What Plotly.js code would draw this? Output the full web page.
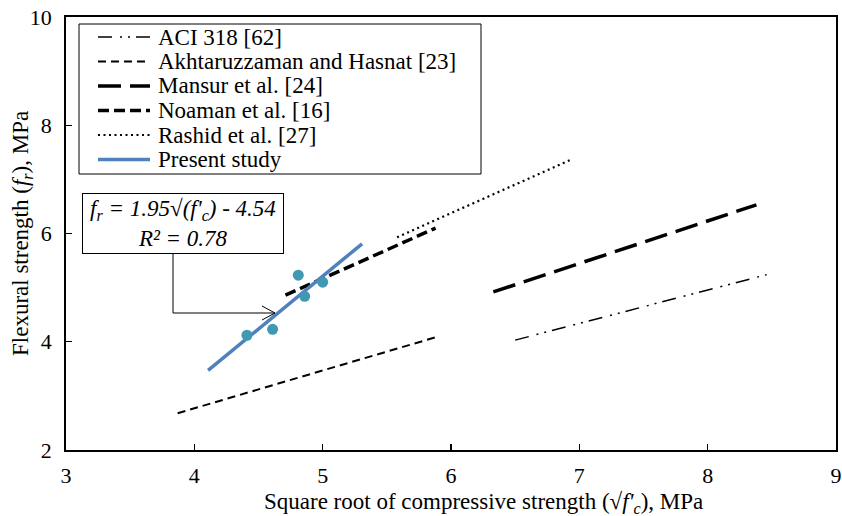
<!DOCTYPE html>
<html>
<head>
<meta charset="utf-8">
<script src="https://cdn.plot.ly/plotly-3.0.1.min.js"></script>
<style>html,body{margin:0;padding:0;background:#fff}#chart{width:842px;height:516px}</style>
</head>
<body>
<div id="chart"></div>
<script>
// ---- data ----
const seriesNames = ["ACI 318 [62]", "Akhtaruzzaman and Hasnat [23]", "Mansur et al. [24]", "Noaman et al. [16]", "Rashid et al. [27]", "Present study"];
const aciX = [6.50, 8.46];
const aciY = [4.03, 5.24];
const akhX = [3.87, 5.89];
const akhY = [2.68, 4.09];
const mansurX = [6.33, 8.38];
const mansurY = [4.92, 6.53];
const noamanX = [4.71, 5.88];
const noamanY = [4.86, 6.10];
const rashidX = [5.58, 6.93];
const rashidY = [5.93, 7.36];
const presentX = [4.107, 5.307];
const presentY = [3.47, 5.81];
const pointsX = [4.41, 4.61, 4.81, 4.86, 5.00];
const pointsY = [4.12, 4.23, 5.23, 4.84, 5.10];
const xTicks = [3, 4, 5, 6, 7, 8, 9];
const yTicks = [2, 4, 6, 8, 10];
const xTitle = "Square root of compressive strength (√<i>f'<sub>c</sub></i>), MPa";
const yTitle = "Flexural strength (<i>f<sub>r</sub></i>), MPa";
const eqText = "<i>f<sub>r</sub> = 1.95√(f'<sub>c</sub>) - 4.54</i><br><i>R² = 0.78</i>";

// ---- styles ----
const FONT = "Liberation Serif, Times New Roman, serif";
const styles = [
  {color: "#000", width: 1.5, dash: "14px,8px,2px,6px,2px,6px"},
  {color: "#000", width: 2, dash: "8px,5px"},
  {color: "#000", width: 3.5, dash: "23px,9px"},
  {color: "#000", width: 3.5, dash: "11px,5px"},
  {color: "#000", width: 2.2, dash: "2px,3.5px"},
  {color: "#4F81BD", width: 3.5, dash: "solid"}
];
const lineData = [[aciX, aciY], [akhX, akhY], [mansurX, mansurY], [noamanX, noamanY], [rashidX, rashidY], [presentX, presentY]];

const traces = lineData.map((d, i) => ({
  type: "scatter", mode: "lines", x: d[0], y: d[1], name: seriesNames[i],
  line: styles[i], showlegend: false, hoverinfo: "skip"
}));
traces.push({
  type: "scatter", mode: "markers", x: pointsX, y: pointsY, name: "Test data",
  marker: {size: 11, color: "#4099B0"}, showlegend: false
});

// pixel -> paper helpers for decorations (plot area 66..836 x 17..450)
const L = 66, R = 836, T = 17, B = 450;
const px = v => (v - L) / (R - L);
const py = v => (B - v) / (B - T);

const shapes = [];
const annotations = [];

// custom legend
shapes.push({type: "rect", xref: "paper", yref: "paper", x0: px(79), x1: px(481), y0: py(24), y1: py(174),
  line: {color: "#000", width: 1}, fillcolor: "rgba(0,0,0,0)", layer: "above"});
seriesNames.forEach((n, i) => {
  const yc = 37 + 24.5 * i;
  shapes.push({type: "line", xref: "paper", yref: "paper", x0: px(98), x1: px(150), y0: py(yc), y1: py(yc),
    line: {color: styles[i].color, width: styles[i].width, dash: styles[i].dash}, layer: "above"});
  annotations.push({xref: "paper", yref: "paper", x: px(156), y: py(yc), xanchor: "left", yanchor: "middle",
    text: n, showarrow: false, font: {family: FONT, size: 23, color: "#000"}});
});

// equation box
annotations.push({xref: "paper", yref: "paper", x: px(183), y: py(223.5), xanchor: "center", yanchor: "middle",
  text: eqText,
  showarrow: false, bgcolor: "#fff", bordercolor: "#000", borderwidth: 1, borderpad: 2,
  width: 196, height: 55, align: "center",
  font: {family: FONT, size: 23, color: "#000"}});
// elbow connector
shapes.push({type: "path", xref: "paper", yref: "paper",
  path: `M ${px(173)} ${py(254)} L ${px(173)} ${py(313)} L ${px(275)} ${py(313)}`,
  line: {color: "#000", width: 1}, layer: "above"});
shapes.push({type: "path", xref: "paper", yref: "paper",
  path: `M ${px(262)} ${py(306)} L ${px(275)} ${py(313)} L ${px(262)} ${py(320)}`,
  line: {color: "#000", width: 1}, layer: "above"});

// axis titles (placed as in the reference)
annotations.push({xref: "paper", yref: "paper", x: px(484), y: py(502.5), xanchor: "center", yanchor: "middle",
  text: xTitle, showarrow: false, font: {family: FONT, size: 23, color: "#000"}});
annotations.push({xref: "paper", yref: "paper", x: px(22), y: py(234), xanchor: "center", yanchor: "middle",
  text: yTitle, textangle: -90, showarrow: false, font: {family: FONT, size: 23, color: "#000"}});

const layout = {
  width: 842, height: 516,
  margin: {l: L, r: 842 - R, t: T, b: 516 - B},
  paper_bgcolor: "#fff", plot_bgcolor: "#fff",
  font: {family: FONT, size: 23, color: "#000"},
  showlegend: false,
  xaxis: {
    range: [3, 9], tickvals: xTicks, ticktext: xTicks.map(String),
    showgrid: false, zeroline: false, showline: true, mirror: true,
    linecolor: "#000", linewidth: 1.8, ticks: "inside", ticklen: 6, tickwidth: 1.2, tickcolor: "#000",
    tickfont: {family: FONT, size: 22, color: "#000"},
    ticklabelstandoff: 5
  },
  yaxis: {
    range: [2, 10], tickvals: yTicks, ticktext: yTicks.map(String),
    showgrid: false, zeroline: false, showline: true, mirror: true,
    linecolor: "#000", linewidth: 1.8, ticks: "inside", ticklen: 6, tickwidth: 1.2, tickcolor: "#000",
    tickfont: {family: FONT, size: 22, color: "#000"},
    ticklabelstandoff: 8
  },
  shapes: shapes,
  annotations: annotations
};

Plotly.newPlot("chart", traces, layout, {displayModeBar: false, staticPlot: true});
</script>
</body>
</html>
